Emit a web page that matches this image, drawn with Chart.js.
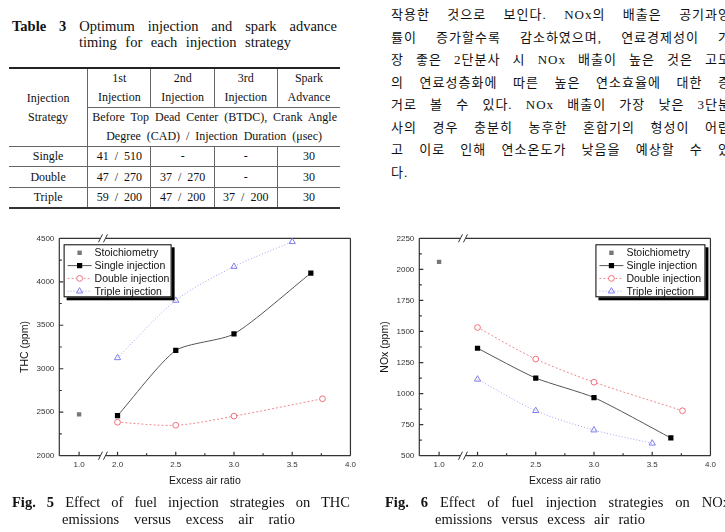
<!DOCTYPE html>
<html>
<head>
<meta charset="utf-8">
<script src="https://cdn.jsdelivr.net/npm/chart.js@4.4.1/dist/chart.umd.min.js"></script>
<style>
  body { margin: 0; width: 725px; height: 532px; overflow: hidden; background: #fff; position: relative;
         font-family: "Liberation Serif", "Times New Roman", serif; color: #111; }
  .line { position: absolute; text-align: justify; text-align-last: justify; white-space: normal; }
  .cap { font-size: 14.5px; line-height: 17px; }
  #t3 { position: absolute; left: 9px; top: 67px; width: 331px; border-collapse: collapse; table-layout: fixed;
        font-size: 12px; line-height: 19px; }
  #t3 td { padding: 0; text-align: center; vertical-align: middle; border-top: 1px solid #666; }
  #t3 tr:first-child td { border-top: 2px solid #222; }
  #t3 tr:last-child td { border-bottom: 2px solid #333; }
  #t3 td.vr { border-right: 1px solid #666; }
  #t3 tr.data td { word-spacing: 3px; }
  #kr { position: absolute; left: 391px; top: 4px; width: 340px; font-size: 13px; line-height: 22.5px;
        letter-spacing: 1px; font-family: "Liberation Serif", "Noto Sans CJK KR", serif; }
  #kr div { text-align: justify; text-align-last: justify; }
  #kr div.end { text-align-last: left; }
  canvas { position: absolute; top: 225px; }
</style>
</head>
<body>

<div class="line cap" style="left:12px; top:18px; width:325px;"><b>Table 3</b> Optimum injection and spark advance</div>
<div class="line cap" style="left:79px; top:34px; width:212px;">timing for each injection strategy</div>

<table id="t3">
  <colgroup><col style="width:78.7px"><col style="width:63.3px"><col style="width:63.3px"><col style="width:63px"><col style="width:62.7px"></colgroup>
  <tr style="height:38.7px">
    <td class="vr" rowspan="2">Injection<br>Strategy</td>
    <td class="vr">1st<br>Injection</td><td class="vr">2nd<br>Injection</td><td class="vr">3rd<br>Injection</td><td>Spark<br>Advance</td>
  </tr>
  <tr style="height:35.6px">
    <td colspan="4"><div style="text-align:justify; text-align-last:justify; padding:0 3px 0 4px;">Before Top Dead Center (BTDC), Crank Angle</div><div style="text-align:justify; text-align-last:justify; padding:0 18px 0 18px;">Degree (CAD) / Injection Duration (μsec)</div></td>
  </tr>
  <tr class="data" style="height:20.4px"><td class="vr">Single</td><td class="vr">41 / 510</td><td class="vr">-</td><td class="vr">-</td><td>30</td></tr>
  <tr class="data" style="height:20.6px"><td class="vr">Double</td><td class="vr">47 / 270</td><td class="vr">37 / 270</td><td class="vr">-</td><td>30</td></tr>
  <tr class="data" style="height:20px"><td class="vr">Triple</td><td class="vr">59 / 200</td><td class="vr">47 / 200</td><td class="vr">37 / 200</td><td>30</td></tr>
</table>

<div id="kr">
  <div>작용한 것으로 보인다. NOx의 배출은 공기과잉</div>
  <div>률이 증가할수록 감소하였으며, 연료경제성이 가</div>
  <div>장 좋은 2단분사 시 NOx 배출이 높은 것은 고도</div>
  <div>의 연료성층화에 따른 높은 연소효율에 대한 증</div>
  <div>거로 볼 수 있다. NOx 배출이 가장 낮은 3단분</div>
  <div>사의 경우 충분히 농후한 혼합기의 형성이 어렵</div>
  <div>고 이로 인해 연소온도가 낮음을 예상할 수 있</div>
  <div class="end">다.</div>
</div>

<canvas id="thcChart" width="360" height="270" style="left:0px"></canvas>
<canvas id="noxChart" width="360" height="270" style="left:360px"></canvas>

<div class="line cap" style="left:12px; top:494px; width:338px;"><b>Fig. 5</b> Effect of fuel injection strategies on THC</div>
<div class="line cap" style="left:62px; top:511px; width:233px;">emissions versus excess air ratio</div>
<div class="line cap" style="left:385px; top:494px; width:345px;"><b>Fig. 6</b> Effect of fuel injection strategies on NOx</div>
<div class="line cap" style="left:435px; top:511px; width:210px;">emissions versus excess air ratio</div>

<script>
    "use strict";

    // excess air ratio (lambda) for each series
    const lambdaStoich = [1.0];
    const lambdaSingle = [2.0, 2.5, 3.0, 3.66];
    const lambdaDouble = [2.0, 2.5, 3.0, 3.76];
    const lambdaTriple = [2.0, 2.5, 3.0, 3.5];

    // THC (ppm)
    const thcStoich = [2475];
    const thcSingle = [2460, 3210, 3400, 4100];
    const thcDouble = [2385, 2350, 2455, 2655];
    const thcTriple = [3125, 3785, 4175, 4460];

    // NOx (ppm)
    const noxStoich = [2060];
    const noxSingle = [1365, 1125, 968, 643];
    const noxDouble = [1532, 1278, 1092, 862];
    const noxTriple = [1115, 862, 706, 600];

    const seriesNames = ['Stoichiometry', 'Single injection', 'Double injection', 'Triple injection'];

    const xTickVals = [1.0, 2.0, 2.5, 3.0, 3.5, 4.0];
    const xMinorVals = [2.25, 2.75, 3.25, 3.75];
    const thcTicks = [2000, 2500, 3000, 3500, 4000, 4500];
    const thcMinor = [2250, 2750, 3250, 3750, 4250];
    const noxTicks = [500, 750, 1000, 1250, 1500, 1750, 2000, 2250];
    const noxMinor = [625, 875, 1125, 1375, 1625, 1875, 2125];

    // broken x axis: lambda = 1.0 is drawn just left of the break
    const BREAK_SHIFT = 0.67;
    const toAxis = v => v < 1.5 ? v + BREAK_SHIFT : v;
    const fromAxis = v => v < 1.8 ? v - BREAK_SHIFT : v;
    const BREAK_POS = 1.875;

    const sansFont = '"Liberation Sans", Arial, sans-serif';

    function pts(xs, ys) {
        return xs.map((x, i) => ({x: toAxis(x), y: ys[i]}));
    }

    function marker(ctx, style, r, x, y, fill, stroke) {
        ctx.beginPath();
        if (style === 'rect') {
            const s = r * Math.SQRT1_2;
            ctx.rect(x - s, y - s, 2 * s, 2 * s);
        } else if (style === 'circle') {
            ctx.arc(x, y, r, 0, Math.PI * 2);
        } else {
            for (let k = 0; k < 3; k++) {
                const a = -Math.PI / 2 + k * 2 * Math.PI / 3;
                const px = x + Math.cos(a) * r, py = y + Math.sin(a) * r;
                k === 0 ? ctx.moveTo(px, py) : ctx.lineTo(px, py);
            }
            ctx.closePath();
        }
        if (fill && fill !== 'transparent') { ctx.fillStyle = fill; ctx.fill(); }
        if (stroke) { ctx.strokeStyle = stroke; ctx.lineWidth = 1; ctx.stroke(); }
    }

    // frame with break marks and inward ticks
    const axisFrame = {
        id: 'axisFrame',
        beforeDatasetsDraw(chart, args, opts) {
            const {ctx, chartArea: a, scales: {x, y}} = chart;
            const bx = x.getPixelForValue(BREAK_POS);
            ctx.save();
            ctx.strokeStyle = '#333';
            ctx.lineWidth = 1.2;
            ctx.beginPath();
            ctx.moveTo(a.left, a.top); ctx.lineTo(a.left, a.bottom);
            ctx.moveTo(a.right, a.top); ctx.lineTo(a.right, a.bottom);
            [a.top, a.bottom].forEach(yy => {
                ctx.moveTo(a.left, yy); ctx.lineTo(bx - 3, yy);
                ctx.moveTo(bx + 3, yy); ctx.lineTo(a.right, yy);
            });
            xTickVals.forEach(v => {
                const px = x.getPixelForValue(toAxis(v));
                ctx.moveTo(px, a.bottom); ctx.lineTo(px, a.bottom - 4);
            });
            xMinorVals.forEach(v => {
                const px = x.getPixelForValue(toAxis(v));
                ctx.moveTo(px, a.bottom); ctx.lineTo(px, a.bottom - 2.5);
            });
            opts.major.forEach(v => {
                const py = y.getPixelForValue(v);
                ctx.moveTo(a.left, py); ctx.lineTo(a.left + 4, py);
            });
            opts.minor.forEach(v => {
                const py = y.getPixelForValue(v);
                ctx.moveTo(a.left, py); ctx.lineTo(a.left + 2.5, py);
            });
            ctx.stroke();
            ctx.lineWidth = 1;
            ctx.beginPath();
            [a.top, a.bottom].forEach(yy => {
                [-2.5, 2.5].forEach(d => {
                    ctx.moveTo(bx + d - 2, yy + 4); ctx.lineTo(bx + d + 2, yy - 4);
                });
            });
            ctx.stroke();
            ctx.restore();
        }
    };

    // boxed legend with drop shadow, drawn inside the plot area
    const boxLegend = {
        id: 'boxLegend',
        afterDraw(chart, args, opts) {
            const {ctx, chartArea: a} = chart;
            const w = opts.width, h = 53;
            const left = opts.side === 'left' ? a.left + 4.3 : a.right - 5 - w;
            const top = a.top + 6;
            ctx.save();
            ctx.fillStyle = '#000';
            ctx.fillRect(left + 3, top + 3, w, h);
            ctx.fillStyle = '#fff';
            ctx.fillRect(left, top, w, h);
            ctx.strokeStyle = '#000';
            ctx.lineWidth = 1;
            ctx.strokeRect(left + 0.5, top + 0.5, w - 1, h - 1);
            chart.data.datasets.forEach((ds, i) => {
                const yy = top + 8.5 + i * 12.8;
                if (ds.showLine) {
                    ctx.strokeStyle = ds.borderColor;
                    ctx.setLineDash(ds.borderDash || []);
                    ctx.beginPath();
                    ctx.moveTo(left + 4, yy); ctx.lineTo(left + 28, yy);
                    ctx.stroke();
                    ctx.setLineDash([]);
                }
                marker(ctx, ds.pointStyle, ds.pointRadius, left + 16, yy, ds.pointBackgroundColor,
                    ds.pointBorderWidth ? ds.pointBorderColor : null);
                ctx.fillStyle = '#111';
                ctx.font = '10.5px ' + sansFont;
                ctx.textBaseline = 'middle';
                ctx.fillText(ds.label, left + 31, yy + 0.5);
            });
            ctx.restore();
        }
    };

    function makeDatasets(stoich, single, dbl, triple) {
        return [{
            label: seriesNames[0],
            data: pts(lambdaStoich, stoich),
            showLine: false,
            pointStyle: 'rect', pointRadius: 3.1, pointBorderWidth: 0,
            pointBackgroundColor: '#777', pointBorderColor: '#777'
        }, {
            label: seriesNames[1],
            data: pts(lambdaSingle, single),
            showLine: true, tension: 0.22,
            borderColor: '#555', borderWidth: 1,
            pointStyle: 'rect', pointRadius: 3.7, pointBorderWidth: 0,
            pointBackgroundColor: '#000', pointBorderColor: '#000'
        }, {
            label: seriesNames[2],
            data: pts(lambdaDouble, dbl),
            showLine: true, tension: 0.3,
            borderColor: '#f08a8e', borderWidth: 1, borderDash: [2, 2],
            pointStyle: 'circle', pointRadius: 2.9, pointBorderWidth: 1,
            pointBackgroundColor: '#fff', pointBorderColor: '#ee6f7a'
        }, {
            label: seriesNames[3],
            data: pts(lambdaTriple, triple),
            showLine: true, tension: 0.3,
            borderColor: '#a4a4f0', borderWidth: 1, borderDash: [1, 2],
            pointStyle: 'triangle', pointRadius: 3.6, pointBorderWidth: 1,
            pointBackgroundColor: 'transparent', pointBorderColor: '#7f7fee'
        }];
    }

    function makeChart(id, datasets, yTitle, yTicks, yMinor, legendSide, legendWidth) {
        const ctx = document.getElementById(id).getContext('2d');
        return new Chart(ctx, {
            type: 'scatter',
            data: {datasets: datasets},
            options: {
                responsive: false,
                animation: false,
                devicePixelRatio: 1,
                layout: {padding: {left: 18.7, top: 13.3, right: 6.7, bottom: 7.7}},
                scales: {
                    x: {
                        type: 'linear', min: 1.5, max: 4.0,
                        afterBuildTicks: s => { s.ticks = xTickVals.map(v => ({value: toAxis(v)})); },
                        afterFit: s => { s.height = 31.6; },
                        grid: {display: false, drawTicks: false},
                        border: {display: false},
                        ticks: {
                            padding: 4, color: '#333', autoSkip: false, maxRotation: 0,
                            font: {family: sansFont, size: 8},
                            callback: v => fromAxis(v).toFixed(1)
                        },
                        title: {display: true, text: 'Excess air ratio', color: '#111', padding: 0,
                            font: {family: sansFont, size: 10.5}}
                    },
                    y: {
                        type: 'linear', min: yTicks[0], max: yTicks[yTicks.length - 1],
                        afterBuildTicks: s => { s.ticks = yTicks.map(v => ({value: v})); },
                        afterFit: s => { s.width = 40.6; },
                        grid: {display: false, drawTicks: false},
                        border: {display: false},
                        ticks: {
                            padding: 5, color: '#333', autoSkip: false,
                            font: {family: sansFont, size: 8},
                            callback: v => String(v)
                        },
                        title: {display: true, text: yTitle, color: '#111', padding: 0,
                            font: {family: sansFont, size: 10.5}}
                    }
                },
                plugins: {
                    legend: {display: false},
                    tooltip: {enabled: false},
                    axisFrame: {major: yTicks, minor: yMinor},
                    boxLegend: {side: legendSide, width: legendWidth}
                }
            },
            plugins: [axisFrame, boxLegend]
        });
    }

    makeChart('thcChart', makeDatasets(thcStoich, thcSingle, thcDouble, thcTriple),
        'THC (ppm)', thcTicks, thcMinor, 'left', 108);
    makeChart('noxChart', makeDatasets(noxStoich, noxSingle, noxDouble, noxTriple),
        'NOx (ppm)', noxTicks, noxMinor, 'right', 110);
</script>
</body>
</html>
